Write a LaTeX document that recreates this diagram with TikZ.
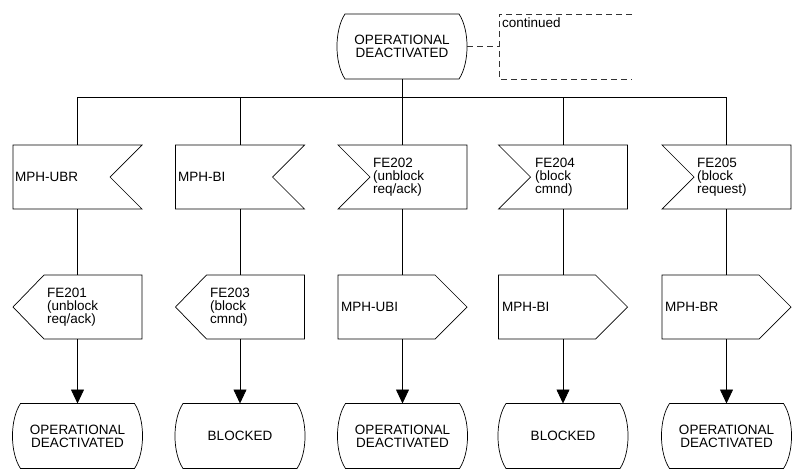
\documentclass[tikz,border=0pt]{standalone}
\usepackage{fontspec}
\setmainfont{Liberation Sans}
\usetikzlibrary{arrows.meta}
\newcommand\fs{\fontsize{13.5}{13}\selectfont}
\begin{document}
\begin{tikzpicture}[x=1pt,y=-1pt,
  shp/.style={minimum width=129pt,minimum height=64pt,inner sep=0pt,outer sep=0pt},
  st/.style={minimum width=130pt,minimum height=65pt,inner sep=0pt,outer sep=0pt,font=\fs,align=center},
  lbl/.style={font=\fs,align=left,inner sep=0pt,anchor=west},
  ln/.style={line width=0.7pt,draw=black},
  dsh/.style={line width=0.7pt,dash pattern=on 6pt off 4pt,draw=black!80},
  arr/.style={ln,-{Triangle[length=14pt,width=13pt]}}
]
\useasboundingbox (0,0) rectangle (798,472);

% top state and continuation box
\node[st] (top) at (402,46.5) {OPERATIONAL\\DEACTIVATED};
\node[minimum width=133pt,minimum height=65pt,inner sep=0pt,outer sep=0pt] (cont) at (565.5,46.5) {};
\node[lbl,anchor=base west] (contt) at (502,27) {continued};

% row 1 (input signals)
\node[shp] (a1) at (77.5,177) {};
\node[shp] (a2) at (240,177) {};
\node[shp] (a3) at (402.5,177) {};
\node[shp] (a4) at (563,177) {};
\node[shp] (a5) at (726.5,177) {};
\node[lbl] (a1t) at (15,177) {MPH-UBR};
\node[lbl] (a2t) at (178,177) {MPH-BI};
\node[lbl] (a3t) at (373,177) {FE202\\(unblock\\req/ack)};
\node[lbl] (a4t) at (535,177) {FE204\\(block\\cmnd)};
\node[lbl] (a5t) at (697,177) {FE205\\(block\\request)};

% row 2 (output signals)
\node[shp] (b1) at (77.5,307) {};
\node[shp] (b2) at (240,307) {};
\node[shp] (b3) at (402.5,307) {};
\node[shp] (b4) at (563,307) {};
\node[shp] (b5) at (726.5,307) {};
\node[lbl] (b1t) at (47,307) {FE201\\(unblock\\req/ack)};
\node[lbl] (b2t) at (210,307) {FE203\\(block\\cmnd)};
\node[lbl] (b3t) at (341,307) {MPH-UBI};
\node[lbl] (b4t) at (502,307) {MPH-BI};
\node[lbl] (b5t) at (665,307) {MPH-BR};

% bottom states
\node[st] (s1) at (77.5,436) {OPERATIONAL\\DEACTIVATED};
\node[st] (s2) at (240,436) {BLOCKED};
\node[st] (s3) at (402.5,436) {OPERATIONAL\\DEACTIVATED};
\node[st] (s4) at (563,436) {BLOCKED};
\node[st] (s5) at (726.5,436) {OPERATIONAL\\DEACTIVATED};

% outlines
\foreach \n in {top,s1,s2,s3,s4,s5}
  \draw[ln] ([xshift=8pt]\n.north west) -- ([xshift=-8pt]\n.north east)
    .. controls ([xshift=2.7pt,yshift=-16pt]\n.north east) and ([xshift=2.7pt,yshift=16pt]\n.south east) .. ([xshift=-8pt]\n.south east)
    -- ([xshift=8pt]\n.south west)
    .. controls ([xshift=-2.7pt,yshift=16pt]\n.south west) and ([xshift=-2.7pt,yshift=-16pt]\n.north west) .. ([xshift=8pt]\n.north west) -- cycle;
\foreach \n in {a1,a2}
  \draw[ln] (\n.north west) -- (\n.north east) -- ([xshift=-32pt]\n.east) -- (\n.south east) -- (\n.south west) -- cycle;
\foreach \n in {a3,a4,a5}
  \draw[ln] (\n.north west) -- (\n.north east) -- (\n.south east) -- (\n.south west) -- ([xshift=32pt]\n.west) -- cycle;
\foreach \n in {b1,b2}
  \draw[ln] (\n.west) -- ([xshift=31pt]\n.north west) -- (\n.north east) -- (\n.south east) -- ([xshift=31pt]\n.south west) -- cycle;
\foreach \n in {b3,b4,b5}
  \draw[ln] (\n.north west) -- ([xshift=-32pt]\n.north east) -- (\n.east) -- ([xshift=-32pt]\n.south east) -- (\n.south west) -- cycle;

% dashed continuation
\draw[dsh] (top.east) -- (cont.west);
\draw[dsh] (cont.north east) -- (cont.north west) -- (cont.south west) -- (cont.south east);

% connectors
\coordinate (bus) at (0,97);
\draw[ln] (top.south) -- (top.south |- bus);
\draw[ln] (a1.north |- bus) -- (a5.north |- bus);
\foreach \i in {1,...,5}{
  \draw[ln] (a\i.north |- bus) -- (a\i.north);
  \draw[ln] (a\i.south) -- (b\i.north);
  \draw[arr] (b\i.south) -- (s\i.north);
}
\end{tikzpicture}
\end{document}
